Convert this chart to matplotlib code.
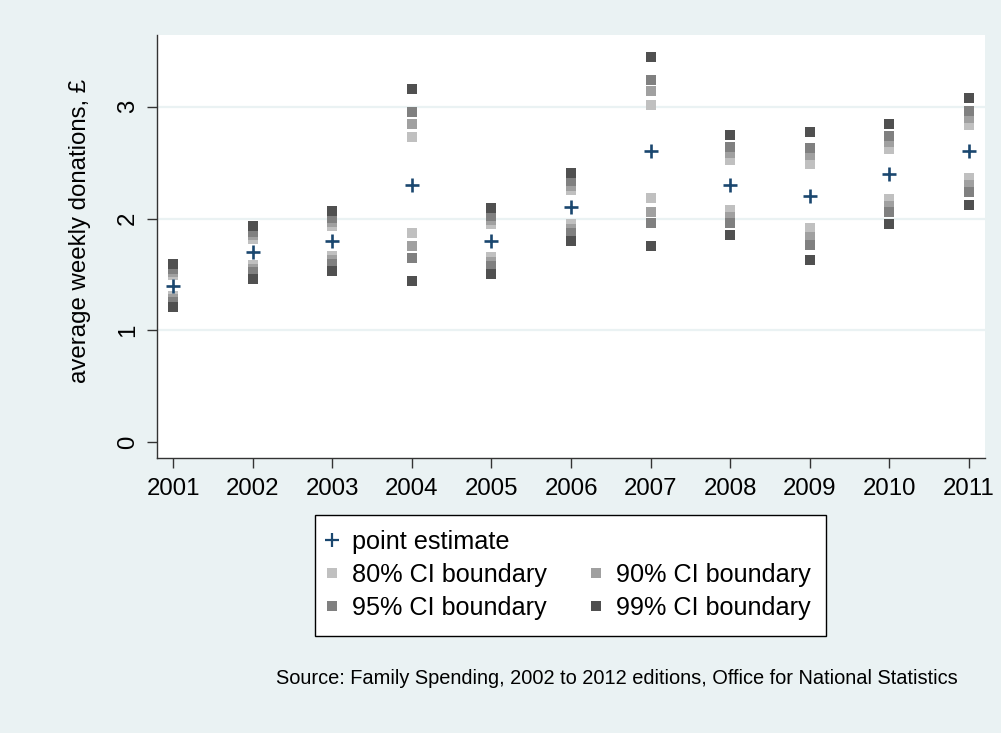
import numpy as np
import matplotlib
matplotlib.use('Agg')
import matplotlib.pyplot as plt
from matplotlib.lines import Line2D

plt.rcParams['font.family'] = ['Liberation Sans', 'DejaVu Sans']

years = [2001, 2002, 2003, 2004, 2005, 2006, 2007, 2008, 2009, 2010, 2011]
point_est = [1.4, 1.7, 1.8, 2.3, 1.8, 2.1, 2.6, 2.3, 2.2, 2.4, 2.6]
# CI bounds (upper / lower)
hi80 = [1.495, 1.818, 1.934, 2.725, 1.947, 2.252, 3.02, 2.524, 2.484, 2.621, 2.836]
lo80 = [1.305, 1.582, 1.666, 1.875, 1.653, 1.948, 2.18, 2.076, 1.916, 2.179, 2.364]
hi90 = [1.521, 1.851, 1.972, 2.846, 1.988, 2.295, 3.14, 2.587, 2.564, 2.684, 2.903]
lo90 = [1.279, 1.549, 1.628, 1.754, 1.612, 1.905, 2.06, 2.013, 1.836, 2.116, 2.297]
hi95 = [1.545, 1.880, 2.005, 2.951, 2.024, 2.332, 3.243, 2.642, 2.634, 2.739, 2.961]
lo95 = [1.255, 1.520, 1.595, 1.649, 1.576, 1.868, 1.957, 1.958, 1.766, 2.061, 2.239]
hi99 = [1.59, 1.937, 2.07, 3.155, 2.095, 2.405, 3.445, 2.75, 2.77, 2.845, 3.075]
lo99 = [1.21, 1.463, 1.53, 1.445, 1.505, 1.795, 1.755, 1.85, 1.63, 1.955, 2.125]

bg = '#eaf2f3'
navy = '#1a476f'
c80, c90, c95, c99 = '#c0c0c0', '#a0a0a0', '#808080', '#505050'

fig = plt.figure(figsize=(10.01, 7.33), dpi=100, facecolor=bg)
ax = fig.add_axes([0.157, 0.375, 0.827, 0.577])
ax.set_facecolor('white')

for y in [1, 2, 3]:
    ax.axhline(y, color=bg, lw=1.6, zorder=0)

sq = dict(marker='s', ms=7.3, mew=0, ls='none')
ax.plot(years, hi80, color=c80, zorder=2, **sq)
ax.plot(years, lo80, color=c80, zorder=2, **sq)
ax.plot(years, hi90, color=c90, zorder=3, **sq)
ax.plot(years, lo90, color=c90, zorder=3, **sq)
ax.plot(years, hi95, color=c95, zorder=4, **sq)
ax.plot(years, lo95, color=c95, zorder=4, **sq)
ax.plot(years, hi99, color=c99, zorder=5, **sq)
ax.plot(years, lo99, color=c99, zorder=5, **sq)
ax.plot(years, point_est, marker='+', ms=9.5, mew=1.9, color=navy, ls='none', zorder=6)

ax.set_xlim(2000.8, 2011.2)
ax.set_ylim(-0.143, 3.64)
ax.set_xticks(years)
ax.set_yticks([0, 1, 2, 3])
ax.set_yticklabels(['0', '1', '2', '3'], rotation=90, va='center')
ax.tick_params(axis='both', labelsize=17.3, length=7.2, width=1, color='#333333', pad=7)
ax.tick_params(axis='y', pad=6)
for s in ['top', 'right']:
    ax.spines[s].set_visible(False)
for s in ['left', 'bottom']:
    ax.spines[s].set_color('#333333')
    ax.spines[s].set_linewidth(1)

ax.set_ylabel('average weekly donations, £', fontsize=17.3)
ax.yaxis.set_label_coords(-0.080, 0.537)

blank = Line2D([], [], ls='none', marker='')
h_pt = Line2D([], [], ls='none', marker='+', ms=9.5, mew=1.6, color=navy)
h80 = Line2D([], [], color=c80, **sq)
h90 = Line2D([], [], color=c90, **sq)
h95 = Line2D([], [], color=c95, **sq)
h99 = Line2D([], [], color=c99, **sq)
leg = fig.legend([h_pt, h80, h95, blank, h90, h99],
                 ['point estimate', '80% CI boundary', '95% CI boundary', '', '90% CI boundary', '99% CI boundary'],
                 ncol=2, loc='upper center', bbox_to_anchor=(0.570, 0.298),
                 fontsize=18.2, frameon=True, fancybox=False, edgecolor='black',
                 framealpha=1, handlelength=0.1, handletextpad=0.74, columnspacing=1.89,
                 labelspacing=0.35, borderpad=0.62, borderaxespad=0)
leg.get_frame().set_linewidth(1)

fig.text(0.957, 0.075, 'Source: Family Spending, 2002 to 2012 editions, Office for National Statistics',
         ha='right', va='center', fontsize=14.4)

fig.savefig('out.png', dpi=100, facecolor=bg)
